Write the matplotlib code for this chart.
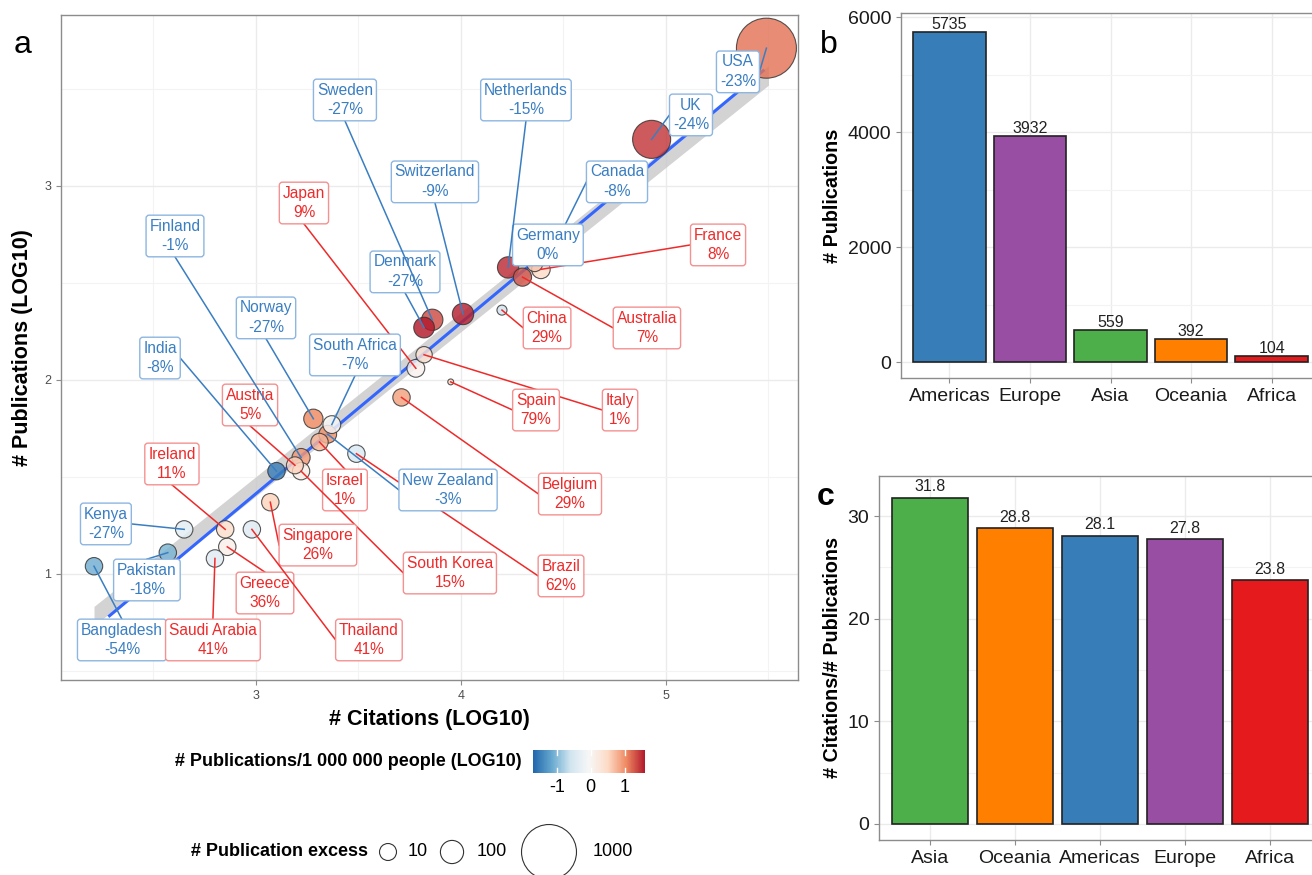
import numpy as np
import matplotlib.pyplot as plt
from matplotlib.colors import LinearSegmentedColormap, Normalize
from matplotlib.cm import ScalarMappable

plt.rcParams['font.family'] = ['Liberation Sans', 'DejaVu Sans']
plt.rcParams['axes.unicode_minus'] = False

# ---------------- panel a data ----------------
countries = ['USA', 'UK', 'Canada', 'France', 'Germany', 'Netherlands', 'Switzerland',
             'Denmark', 'Sweden', 'Japan', 'Italy', 'Spain', 'China', 'Australia',
             'Belgium', 'Brazil', 'New Zealand', 'Norway', 'South Africa', 'Israel',
             'South Korea', 'Austria', 'Finland', 'India', 'Ireland', 'Singapore',
             'Kenya', 'Pakistan', 'Greece', 'Bangladesh', 'Saudi Arabia', 'Thailand']
log_citations = [5.49, 4.93, 4.48, 4.39, 4.36, 4.23, 4.01, 3.82, 3.86, 3.78, 3.82, 3.95,
                 4.20, 4.30, 3.71, 3.49, 3.35, 3.28, 3.37, 3.31, 3.22, 3.19, 3.22, 3.10,
                 2.85, 3.07, 2.65, 2.57, 2.86, 2.21, 2.80, 2.98]
log_pubs = [3.71, 3.24, 2.74, 2.57, 2.60, 2.58, 2.34, 2.27, 2.31, 2.06, 2.13, 1.99,
            2.36, 2.53, 1.91, 1.62, 1.72, 1.80, 1.77, 1.68, 1.53, 1.56, 1.60, 1.53,
            1.23, 1.37, 1.23, 1.11, 1.14, 1.04, 1.08, 1.23]
excess_pct = [-23, -24, -8, 8, 0, -15, -9, -27, -27, 9, 1, 79, 29, 7, 29, 62, -3, -27,
              -7, 1, 15, 5, -1, -8, 11, 26, -27, -18, 36, -54, 41, 41]
pubs_per_million = [1.15, 1.45, 1.3, 0.5, 0.65, 1.5, 1.55, 1.6, 1.35, 0.05, 0.35, 0.5,
                    -0.6, 1.3, 0.9, -0.45, 1.0, 1.05, -0.05, 0.75, 0.15, 0.55, 0.95, -1.5,
                    0.45, 0.55, -0.35, -1.05, 0.1, -1.1, -0.4, -0.4]
# marker size values, estimated from circle sizes
pub_excess = [1210, 430, 45, 30, 0, 70, 70, 60, 70, 20, 2, -82, -58, 25, 15, 15, 20, 40,
              20, 15, 15, 10, 25, 15, 15, 15, 15, 15, 15, 15, 15, 15]

# repelled label positions (layout)
label_x = [5.351, 5.122, 4.761, 5.254, 4.424, 4.317, 3.873, 3.727, 3.434, 3.234, 4.776,
           4.366, 4.420, 4.907, 4.532, 4.488, 3.937, 3.049, 3.483, 3.434, 3.946, 2.971,
           2.605, 2.532, 2.590, 3.302, 2.268, 2.468, 3.044, 2.346, 2.790, 3.551]
label_y = [3.588, 3.366, 3.021, 2.696, 2.696, 3.443, 3.021, 2.557, 3.443, 2.912, 1.845,
           1.845, 2.268, 2.268, 1.412, 0.990, 1.433, 2.320, 2.129, 1.433, 1.005, 1.871,
           2.742, 2.113, 1.567, 1.149, 1.258, 0.969, 0.902, 0.660, 0.660, 0.660]

# regression line and its band
fit_x = [2.28, 5.48]
fit_slope, fit_intercept = 0.881, -1.229
band_x = [2.21, 5.50]
band_slope, band_intercept, band_half = 0.847, -1.089, 0.05

# ---------------- panels b and c ----------------
regions_b = ['Americas', 'Europe', 'Asia', 'Oceania', 'Africa']
pubs_b = [5735, 3932, 559, 392, 104]
regions_c = ['Asia', 'Oceania', 'Americas', 'Europe', 'Africa']
ratio_c = [31.8, 28.8, 28.1, 27.8, 23.8]
region_colors = {'Americas': '#377EB8', 'Europe': '#984EA3', 'Asia': '#4DAF4A',
                 'Oceania': '#FF7F00', 'Africa': '#E41A1C'}

size_legend_vals = [10, 100, 1000]

# ---------------- helpers ----------------
W, H = 1312, 875
fig = plt.figure(figsize=(W / 100, H / 100), dpi=100)


def px_box(l, t, r, b):
    return [l / W, 1 - b / H, (r - l) / W, (b - t) / H]


def marker_area(v):
    # diameter in px^2 fitted on the legend keys, converted to pt^2
    d2 = 261 + 2.76 * np.asarray(v, dtype=float)
    return d2 * 0.72 ** 2


cmap = LinearSegmentedColormap.from_list(
    'rdbu7', ['#2166AC', '#67A9CF', '#D1E5F0', '#F7F7F7', '#FDDBC7', '#EF8A62', '#B2182B'])
norm = Normalize(-1.7, 1.6)

grid_c = '#EBEBEB'
spine_c = '#8C8C8C'


def style_axes(ax, tick_size, tick_color):
    for s in ax.spines.values():
        s.set_color(spine_c)
        s.set_linewidth(1.0)
    ax.tick_params(labelsize=tick_size, colors=spine_c, labelcolor=tick_color, length=3.5)
    ax.grid(True, which='major', color=grid_c, lw=1.0, zorder=0)
    ax.grid(True, which='minor', color='#F3F3F3', lw=0.8, zorder=0)
    ax.set_axisbelow(True)


# ---------------- panel a ----------------
ax = fig.add_axes(px_box(61, 15, 798, 680))
ax.set_xlim(2.049, 5.644)
ax.set_ylim(0.4536, 3.881)
ax.set_xticks([3, 4, 5])
ax.set_yticks([1, 2, 3])
ax.set_xticks([2.5, 3.5, 4.5, 5.5], minor=True)
ax.set_yticks([0.5, 1.5, 2.5, 3.5], minor=True)
style_axes(ax, 9, '#4D4D4D')
ax.tick_params(which='minor', length=0)

bx = np.linspace(band_x[0], band_x[1], 50)
bc = band_intercept + band_slope * bx
ax.fill_between(bx, bc - band_half, bc + band_half, color='#C8C8C8', alpha=0.8, lw=0, zorder=1)
fx = np.array(fit_x)
ax.plot(fx, fit_intercept + fit_slope * fx, color='#3366FF', lw=2.2, zorder=2,
        solid_capstyle='butt')

order = np.argsort(-np.array(pub_excess))
xs = np.array(log_citations)[order]
ys = np.array(log_pubs)[order]
cs = np.array(pubs_per_million)[order]
ss = marker_area(np.array(pub_excess)[order])
ax.scatter(xs, ys, s=ss, c=cs, cmap=cmap, norm=norm, alpha=0.82,
           edgecolors='#333333', linewidths=0.8, zorder=3)

ax.set_xlabel('# Citations (LOG10)', fontsize=15.5, fontweight='bold', labelpad=5)
ax.set_ylabel('# Publications (LOG10)', fontsize=15.5, fontweight='bold', labelpad=8)

blue_txt, blue_edge = '#3A7EC2', '#8DB6E0'
red_txt, red_edge = '#EE2A2A', '#F49191'

texts = []
for i, name in enumerate(countries):
    pos = excess_pct[i] > 0
    tc, ec = (red_txt, red_edge) if pos else (blue_txt, blue_edge)
    t = ax.text(label_x[i], label_y[i], f'{name}\n{excess_pct[i]}%', ha='center',
                va='center', fontsize=11.2, color=tc, linespacing=1.4, zorder=11 + 2 * i,
                bbox=dict(boxstyle='round,pad=0.22,rounding_size=0.2', fc='white',
                          ec=ec, lw=1.0))
    texts.append((t, tc))

fig.canvas.draw()
renderer = fig.canvas.get_renderer()
inv = ax.transData.inverted()
for i, (t, tc) in enumerate(texts):
    bb = t.get_bbox_patch().get_window_extent(renderer)
    p = ax.transData.transform((log_citations[i], log_pubs[i]))
    if bb.x0 <= p[0] <= bb.x1 and bb.y0 <= p[1] <= bb.y1:
        continue
    mids = [((bb.x0 + bb.x1) / 2, bb.y0), ((bb.x0 + bb.x1) / 2, bb.y1),
            (bb.x0, (bb.y0 + bb.y1) / 2), (bb.x1, (bb.y0 + bb.y1) / 2)]
    m = min(mids, key=lambda q: (q[0] - p[0]) ** 2 + (q[1] - p[1]) ** 2)
    seg = inv.transform([m, p])
    ax.plot(seg[:, 0], seg[:, 1], color=tc, lw=1.1, zorder=10 + 2 * i)

fig.text(23 / W, 1 - 45 / H, 'a', fontsize=23, va='center', ha='center')

# colour legend
fig.text(522 / W, 1 - 762 / H, '# Publications/1 000 000 people (LOG10)', fontsize=13,
         fontweight='bold', ha='right', va='center')
cax = fig.add_axes(px_box(533, 750, 645, 773))
cb = fig.colorbar(ScalarMappable(norm=norm, cmap=cmap), cax=cax, orientation='horizontal',
                  ticks=[-1, 0, 1])
cb.outline.set_visible(False)
cax.tick_params(length=0, labelsize=13, pad=4)
for v in [-1, 0, 1]:
    cax.plot([v, v], [0, 0.2], color='white', lw=1, transform=cax.get_xaxis_transform())
    cax.plot([v, v], [0.8, 1], color='white', lw=1, transform=cax.get_xaxis_transform())

# size legend
lax = fig.add_axes([0, 0, 1, 1], facecolor='none')
lax.set_xlim(0, W)
lax.set_ylim(H, 0)
lax.axis('off')
lax.text(368, 852, '# Publication excess', fontsize=13, fontweight='bold',
         ha='right', va='center')
key_x = [388, 452, 549]
lab_x = [408, 477, 593]
lax.scatter(key_x, [852] * 3, s=marker_area(size_legend_vals), facecolors='white',
            edgecolors='#333333', linewidths=0.8, clip_on=False)
for kx, v in zip(lab_x, size_legend_vals):
    lax.text(kx, 852, str(v), fontsize=13, ha='left', va='center')

# ---------------- panel b ----------------
axb = fig.add_axes(px_box(901, 13, 1320, 378))
xb = np.arange(len(regions_b))
axb.bar(xb, pubs_b, width=0.9, color=[region_colors[r] for r in regions_b],
        edgecolor='#222222', linewidth=1.2, zorder=2)
for x, v in zip(xb, pubs_b):
    axb.text(x, v, str(v), ha='center', va='bottom', fontsize=11.5, color='#222222')
axb.set_xlim(-0.6, 4.6)
axb.set_ylim(-278, 6070)
axb.set_xticks(xb)
axb.set_xticklabels(regions_b)
axb.set_yticks([0, 2000, 4000, 6000])
axb.set_yticks([1000, 3000, 5000], minor=True)
style_axes(axb, 14, '#1A1A1A')
axb.tick_params(which='minor', length=0)
axb.set_ylabel('# Publications', fontsize=14.2, fontweight='bold', labelpad=4)
fig.text(829 / W, 1 - 45 / H, 'b', fontsize=23, va='center', ha='center')

# ---------------- panel c ----------------
axc = fig.add_axes(px_box(879, 476, 1321, 840))
xc = np.arange(len(regions_c))
axc.bar(xc, ratio_c, width=0.9, color=[region_colors[r] for r in regions_c],
        edgecolor='#222222', linewidth=1.2, zorder=2)
for x, v in zip(xc, ratio_c):
    axc.text(x, v + 0.3, f'{v:.1f}', ha='center', va='bottom', fontsize=11.5, color='#222222')
axc.set_xlim(-0.6, 4.6)
axc.set_ylim(-1.56, 33.9)
axc.set_xticks(xc)
axc.set_xticklabels(regions_c)
axc.set_yticks([0, 10, 20, 30])
axc.set_yticks([5, 15, 25], minor=True)
style_axes(axc, 14, '#1A1A1A')
axc.tick_params(which='minor', length=0)
axc.set_ylabel('# Citations/# Publications', fontsize=14.2, fontweight='bold', labelpad=4)
fig.text(826 / W, 1 - 497 / H, 'c', fontsize=23, fontweight='bold', va='center', ha='center')

fig.savefig('out.png', dpi=100)
